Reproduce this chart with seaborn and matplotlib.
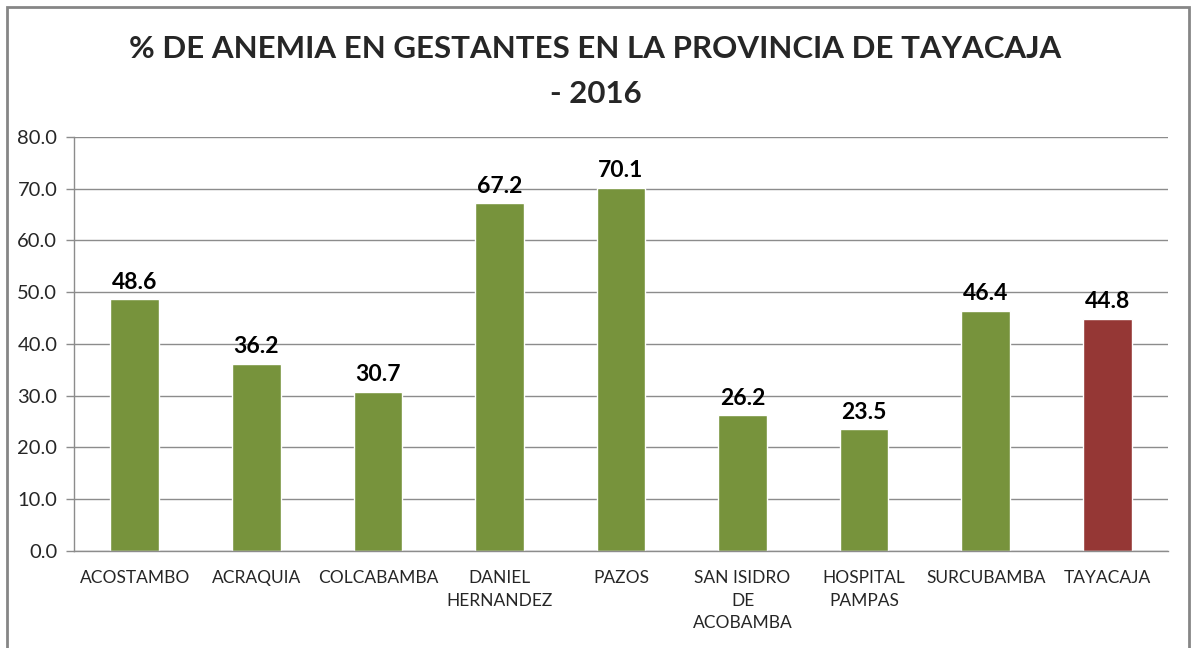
import matplotlib
matplotlib.use('Agg')
import matplotlib.pyplot as plt
import seaborn as sns
import pandas as pd
from matplotlib.patches import Rectangle

districts = ['ACOSTAMBO', 'ACRAQUIA', 'COLCABAMBA', 'DANIEL\nHERNANDEZ', 'PAZOS',
             'SAN ISIDRO\nDE\nACOBAMBA', 'HOSPITAL\nPAMPAS', 'SURCUBAMBA', 'TAYACAJA']
anemia_pct = [48.6, 36.2, 30.7, 67.2, 70.1, 26.2, 23.5, 46.4, 44.8]
bar_colors = ['#77933C'] * 8 + ['#953735']
y_ticks = [0, 10, 20, 30, 40, 50, 60, 70, 80]

sns.set_style('white')
plt.rcParams['font.family'] = ['Lato', 'DejaVu Sans']

df = pd.DataFrame({'district': districts, 'pct': anemia_pct})

fig = plt.figure(figsize=(11.91, 6.48), dpi=100)
ax = fig.add_axes([0.0621, 0.1497, 0.9186, 0.6389])

sns.barplot(data=df, x='district', y='pct', hue='district', palette=bar_colors,
            legend=False, width=0.4, saturation=1, ax=ax)

for i, v in enumerate(anemia_pct):
    ax.text(i, v + 1.3, f'{v:.1f}', ha='center', va='bottom',
            fontsize=16.5, fontweight='bold', color='black')

ax.set_ylim(0, 80)
ax.set_xlim(-0.5, len(districts) - 0.5)
ax.set_yticks(y_ticks)
ax.set_yticklabels([f'{t:.1f}' for t in y_ticks], fontsize=14.5)
ax.yaxis.grid(True, color='#8c8c8c', linewidth=1)
ax.set_axisbelow(True)
ax.set_xlabel('')
ax.set_ylabel('')

for lbl in ax.get_xticklabels():
    lbl.set_fontsize(12.5)
    lbl.set_linespacing(1.5)
    lbl.set_verticalalignment('top')
ax.tick_params(axis='x', which='major', length=0, pad=14)
ax.set_xticks([i - 0.5 for i in range(len(districts) + 1)], minor=True)
ax.tick_params(axis='x', which='minor', length=6, color='#8c8c8c', width=1)
ax.tick_params(axis='y', length=6, color='#8c8c8c', width=1, pad=6, left=True)

for side in ['top', 'right']:
    ax.spines[side].set_visible(False)
for side in ['left', 'bottom']:
    ax.spines[side].set_color('#8c8c8c')
    ax.spines[side].set_linewidth(1)

fig.text(0.5, 0.925, '% DE ANEMIA EN GESTANTES EN LA PROVINCIA DE TAYACAJA',
         ha='center', va='center', fontsize=22.5, fontweight='bold')
fig.text(0.5, 0.855, '- 2016', ha='center', va='center', fontsize=22.5, fontweight='bold')

fig.patches.append(Rectangle((0.006, -0.05), 0.992, 1.039, transform=fig.transFigure,
                             fill=False, edgecolor='#868686', linewidth=2))

fig.savefig('out.png', dpi=100)
